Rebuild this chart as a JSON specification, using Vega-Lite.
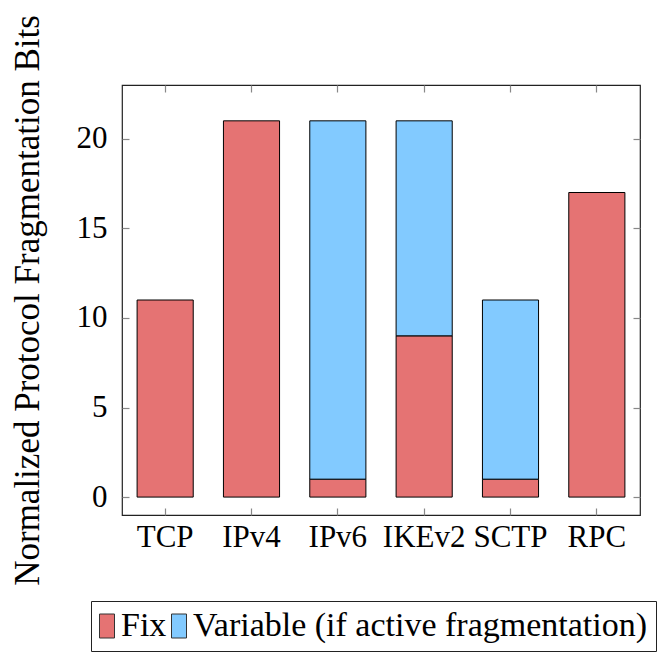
{
  "$schema": "https://vega.github.io/schema/vega-lite/v6.json",
  "width": 518,
  "height": 430,
  "autosize": {"type": "none"},
  "padding": {"left": 122, "top": 85, "right": 26, "bottom": 137},
  "background": "white",
  "config": {
    "font": "Liberation Serif",
    "view": {"stroke": "#222222", "strokeWidth": 1.2},
    "axis": {
      "labelFont": "Liberation Serif",
      "titleFont": "Liberation Serif",
      "labelFontSize": 31,
      "titleFontSize": 35,
      "labelColor": "black",
      "titleColor": "black",
      "titleFontWeight": "normal",
      "domain": false,
      "grid": false,
      "tickColor": "#888888",
      "tickWidth": 1.2
    }
  },
  "data": {
    "values": [
      {"protocol": "TCP", "type": "Fix", "bits": 11},
      {"protocol": "IPv4", "type": "Fix", "bits": 21},
      {"protocol": "IPv6", "type": "Fix", "bits": 1},
      {"protocol": "IPv6", "type": "Variable (if active fragmentation)", "bits": 20},
      {"protocol": "IKEv2", "type": "Fix", "bits": 9},
      {"protocol": "IKEv2", "type": "Variable (if active fragmentation)", "bits": 12},
      {"protocol": "SCTP", "type": "Fix", "bits": 1},
      {"protocol": "SCTP", "type": "Variable (if active fragmentation)", "bits": 10},
      {"protocol": "RPC", "type": "Fix", "bits": 17}
    ]
  },
  "resolve": {"axis": {"x": "independent", "y": "independent"}},
  "layer": [
    {
      "mark": {"type": "bar", "stroke": "black", "strokeWidth": 1},
      "encoding": {
        "x": {
          "field": "protocol",
          "type": "nominal",
          "sort": ["TCP", "IPv4", "IPv6", "IKEv2", "SCTP", "RPC"],
          "scale": {"paddingInner": 0.35, "paddingOuter": 0.175},
          "axis": {"orient": "bottom", "title": null, "labelAngle": 0, "tickSize": -7, "labelPadding": 14}
        },
        "y": {
          "field": "bits",
          "type": "quantitative",
          "stack": "zero",
          "scale": {"domain": [-1, 23], "nice": false, "zero": false},
          "axis": {
            "orient": "left",
            "values": [0, 5, 10, 15, 20],
            "tickSize": -7,
            "labelPadding": 22,
            "title": "Normalized Protocol Fragmentation Bits",
            "titlePadding": 31
          }
        },
        "color": {
          "field": "type",
          "type": "nominal",
          "scale": {"domain": ["Fix", "Variable (if active fragmentation)"], "range": ["#E57373", "#82CAFF"]},
          "legend": {
            "title": null,
            "orient": "none",
            "direction": "horizontal",
            "legendX": -31,
            "legendY": 516,
            "fillColor": "white",
            "strokeColor": "#222222",
            "padding": 8,
            "labelFont": "Liberation Serif",
            "labelFontSize": 34,
            "labelColor": "black",
            "labelLimit": 800,
            "labelOffset": -3,
            "symbolOffset": -9,
            "columnPadding": 2,
            "symbolType": "M-1,-1.6H1V1.6H-1Z",
            "symbolSize": 225,
            "symbolStrokeColor": "#333333",
            "symbolStrokeWidth": 1,
            "symbolOpacity": 1
          }
        },
        "order": {"field": "type", "sort": "ascending"}
      }
    },
    {
      "mark": {"type": "bar", "opacity": 0},
      "encoding": {
        "x": {
          "field": "protocol",
          "type": "nominal",
          "sort": ["TCP", "IPv4", "IPv6", "IKEv2", "SCTP", "RPC"],
          "axis": {"orient": "top", "title": null, "labels": false, "tickSize": -7}
        },
        "y": {
          "field": "bits",
          "type": "quantitative",
          "stack": "zero",
          "axis": {"orient": "right", "title": null, "labels": false, "values": [0, 5, 10, 15, 20], "tickSize": -7}
        }
      }
    }
  ]
}
